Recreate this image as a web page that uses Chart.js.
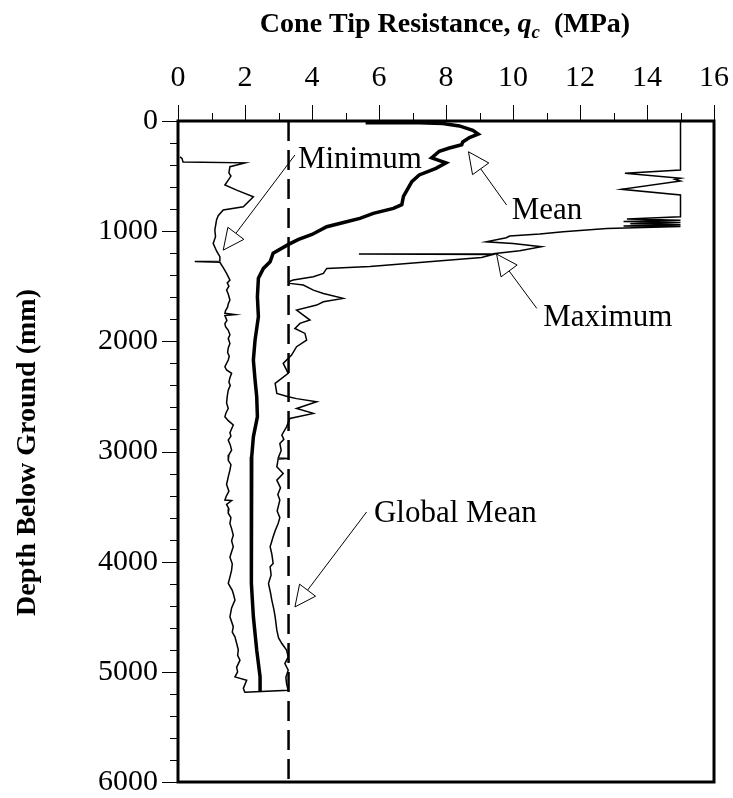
<!DOCTYPE html>
<html>
<head>
<meta charset="utf-8">
<title>Cone tip resistance profile</title>
<script src="https://cdn.jsdelivr.net/npm/chart.js@4.4.1/dist/chart.umd.min.js"></script>
<style>
  html, body { margin: 0; padding: 0; background: #fff; }
  canvas { display: block; }
</style>
</head>
<body>
<canvas id="cpt" width="733" height="798"></canvas>
<script>
// profiles as [qc (MPa), depth (mm)]
const minProfile = [
  [0.06, 325], [0.12, 340], [0.15, 372], [2.0, 380], [1.55, 415], [1.52, 470], [1.58, 500],
  [1.5, 536], [1.4, 581], [1.75, 627], [2.25, 687], [1.95, 778], [1.35, 808], [1.2, 860],
  [1.15, 899], [1.1, 990], [1.12, 1050], [1.05, 1111], [1.15, 1180], [1.25, 1232],
  [1.25, 1272], [0.5, 1276], [1.25, 1282], [1.35, 1330], [1.45, 1383], [1.55, 1444],
  [1.47, 1470], [1.52, 1500], [1.45, 1535], [1.5, 1570], [1.55, 1625], [1.5, 1660],
  [1.48, 1690], [1.42, 1720], [1.4, 1746], [1.7, 1758], [1.4, 1766], [1.46, 1810],
  [1.4, 1840], [1.42, 1868], [1.5, 1900], [1.55, 1940], [1.5, 1975], [1.55, 2019],
  [1.5, 2060], [1.48, 2100], [1.53, 2135], [1.5, 2170], [1.4, 2231], [1.45, 2260],
  [1.6, 2291], [1.55, 2330], [1.52, 2370], [1.56, 2400], [1.5, 2443], [1.47, 2500],
  [1.45, 2560], [1.5, 2610], [1.43, 2650], [1.4, 2685], [1.5, 2720], [1.65, 2760],
  [1.55, 2830], [1.58, 2860], [1.5, 2897], [1.56, 2940], [1.6, 2988], [1.52, 3030],
  [1.5, 3080], [1.58, 3120], [1.55, 3169], [1.5, 3230], [1.45, 3300], [1.52, 3360],
  [1.45, 3400], [1.4, 3441], [1.6, 3445], [1.45, 3480], [1.52, 3520], [1.5, 3560],
  [1.58, 3600], [1.55, 3653], [1.6, 3700], [1.65, 3760], [1.6, 3810], [1.65, 3865],
  [1.6, 3910], [1.55, 3960], [1.62, 4020], [1.6, 4077], [1.55, 4140], [1.5, 4198],
  [1.62, 4260], [1.66, 4300], [1.7, 4349], [1.6, 4420], [1.55, 4501], [1.65, 4590],
  [1.62, 4640], [1.7, 4682], [1.75, 4740], [1.8, 4800], [1.78, 4850], [1.85, 4894],
  [1.75, 4960], [1.78, 5000], [1.7, 5046], [2.05, 5076], [1.95, 5150], [2.0, 5190]
];

const meanProfile = [
  [5.6, 15], [7.2, 15], [7.9, 22], [8.4, 45], [8.8, 85], [8.96, 118], [8.7, 150],
  [8.5, 190], [8.47, 215], [8.1, 245], [7.8, 275], [7.57, 335], [8.0, 380], [7.7, 430],
  [7.2, 490], [6.98, 550], [6.87, 610], [6.73, 685], [6.68, 760], [6.43, 793], [5.83, 838],
  [5.43, 884], [5.03, 914], [4.44, 960], [4.0, 1030], [3.6, 1075], [3.3, 1120], [2.84, 1200],
  [2.75, 1278], [2.55, 1338], [2.4, 1428], [2.37, 1595], [2.4, 1777], [2.3, 1989],
  [2.25, 2170], [2.3, 2350], [2.35, 2504], [2.37, 2685], [2.25, 2867], [2.2, 3048],
  [2.2, 3260], [2.18, 3411], [2.18, 3900], [2.2, 4195], [2.25, 4500], [2.35, 4803],
  [2.45, 5046], [2.45, 5180]
];

const maxProfile = [
  [15, 0], [15, 445], [13.34, 475], [15, 520], [14.84, 530], [15, 545], [13.24, 620],
  [15, 672], [15, 869], [13.4, 890], [15, 900], [13.3, 912], [15, 922], [13.5, 932],
  [15, 942], [13.3, 952], [15, 958], [12.8, 975], [11.5, 1005], [10.8, 1026], [9.9, 1044],
  [9.8, 1060], [9.2, 1096], [10.0, 1111], [10.85, 1141], [10.2, 1178], [9.4, 1205],
  [5.4, 1208], [9.4, 1212], [9.06, 1238], [5.73, 1320], [4.44, 1338], [4.34, 1383],
  [4.04, 1414], [3.44, 1444], [3.3, 1460], [3.34, 1474], [3.74, 1489], [4.04, 1535],
  [4.34, 1565], [4.93, 1610], [4.34, 1641], [4.14, 1671], [3.54, 1716], [3.94, 1807],
  [3.64, 1837], [3.49, 1883], [3.79, 1928], [3.84, 1989], [3.54, 2049], [3.39, 2125],
  [3.14, 2200], [3.29, 2291], [2.9, 2382], [2.95, 2473], [3.29, 2503], [3.54, 2520],
  [4.14, 2548], [3.54, 2609], [4.04, 2654], [3.34, 2700], [3.24, 2776], [3.1, 2850],
  [3.16, 2890], [3.04, 2927], [3.08, 2990], [2.99, 3060], [3.3, 3064], [2.99, 3068],
  [2.95, 3139], [3.14, 3200], [2.95, 3260], [3.06, 3330], [2.98, 3390], [3.04, 3441],
  [2.96, 3540], [3.04, 3600], [2.99, 3653], [2.9, 3720], [2.84, 3774], [2.75, 3865],
  [2.8, 3930], [2.84, 4016], [2.75, 4047], [2.78, 4120], [2.7, 4198], [2.76, 4280],
  [2.8, 4349], [2.86, 4430], [2.9, 4501], [2.95, 4622], [3.0, 4690], [3.1, 4743],
  [3.24, 4803], [3.29, 4864], [3.19, 4925], [3.29, 4985], [3.22, 5050], [3.24, 5106],
  [3.29, 5167], [2.0, 5185]
];

const globalMean = 3.3;

const qcTicks = [0, 2, 4, 6, 8, 10, 12, 14, 16];
const depthTicks = [0, 1000, 2000, 3000, 4000, 5000, 6000];

// callouts: label position and arrow tail/tip, all in [qc, depth]
const callouts = [
  { text: 'Minimum', at: [3.58, 427], from: [3.49, 309], to: [1.35, 1172] },
  { text: 'Mean', at: [9.96, 890], from: [9.81, 763], to: [8.67, 279] },
  { text: 'Maximum', at: [10.9, 1859], from: [10.71, 1701], to: [9.51, 1208] },
  { text: 'Global Mean', at: [5.85, 3639], from: [5.63, 3549], to: [3.49, 4411] }
];

const toPoints = rows => rows.map(r => ({ x: r[0], y: r[1] }));

const serif = '"Liberation Serif", "Times New Roman", serif';

function drawArrow(ctx, x0, y0, x1, y1) {
  const a = Math.atan2(y1 - y0, x1 - x0);
  const len = 21, half = 10;
  const bx = x1 - len * Math.cos(a), by = y1 - len * Math.sin(a);
  ctx.beginPath();
  ctx.moveTo(x0, y0);
  ctx.lineTo(bx, by);
  ctx.stroke();
  ctx.beginPath();
  ctx.moveTo(x1, y1);
  ctx.lineTo(bx + half * Math.sin(a), by - half * Math.cos(a));
  ctx.lineTo(bx - half * Math.sin(a), by + half * Math.cos(a));
  ctx.closePath();
  ctx.fillStyle = '#fff';
  ctx.fill();
  ctx.stroke();
}

const frame = {
  id: 'frame',
  afterDatasetsDraw(chart) {
    const { ctx } = chart;
    const xs = chart.scales.x, ys = chart.scales.y;
    ctx.save();
    ctx.strokeStyle = '#000';
    ctx.lineWidth = 1;
    callouts.forEach(c => {
      drawArrow(ctx,
        xs.getPixelForValue(c.from[0]), ys.getPixelForValue(c.from[1]),
        xs.getPixelForValue(c.to[0]), ys.getPixelForValue(c.to[1]));
      ctx.fillStyle = '#000';
      ctx.font = '31px ' + serif;
      ctx.textAlign = 'left';
      ctx.textBaseline = 'alphabetic';
      ctx.fillText(c.text, xs.getPixelForValue(c.at[0]), ys.getPixelForValue(c.at[1]));
    });
    ctx.restore();
  },
  afterDraw(chart) {
    const { ctx, chartArea: area } = chart;
    const xs = chart.scales.x, ys = chart.scales.y;
    ctx.save();
    ctx.strokeStyle = '#000';

    // box
    ctx.lineWidth = 3;
    ctx.strokeRect(area.left, area.top, area.right - area.left, area.bottom - area.top);

    // tick marks, major labelled ones longer
    ctx.lineWidth = 1;
    ctx.beginPath();
    for (let v = 0; v <= 16; v++) {
      const px = Math.round(xs.getPixelForValue(v)) + 0.5;
      const len = v % 2 === 0 ? 16 : 8;
      ctx.moveTo(px, area.top);
      ctx.lineTo(px, area.top - len);
    }
    for (let d = 0; d <= 6000; d += 200) {
      const py = Math.round(ys.getPixelForValue(d)) + 0.5;
      const len = d % 1000 === 0 ? 16 : 8;
      ctx.moveTo(area.left, py);
      ctx.lineTo(area.left - len, py);
    }
    ctx.stroke();

    // top title with bold italic q and subscript c
    ctx.fillStyle = '#000';
    ctx.textBaseline = 'alphabetic';
    ctx.textAlign = 'left';
    const bold = 'bold 28px ' + serif;
    const boldIt = 'italic bold 28px ' + serif;
    const sub = 'italic bold 19px ' + serif;
    const parts = [
      { t: 'Cone Tip Resistance, ', f: bold, dy: 0 },
      { t: 'q', f: boldIt, dy: 0 },
      { t: 'c', f: sub, dy: 6 },
      { t: '  (MPa)', f: bold, dy: 0 }
    ];
    let total = 0;
    parts.forEach(p => { ctx.font = p.f; p.w = ctx.measureText(p.t).width; total += p.w; });
    let x = 445 - total / 2;
    parts.forEach(p => { ctx.font = p.f; ctx.fillText(p.t, x, 32 + p.dy); x += p.w; });

    // side title
    ctx.translate(28, (area.top + area.bottom) / 2 + 1);
    ctx.rotate(-Math.PI / 2);
    ctx.font = bold;
    ctx.textAlign = 'center';
    ctx.textBaseline = 'middle';
    ctx.fillText('Depth Below Ground (mm)', 0, 0);
    ctx.restore();
  }
};

const line = (data, width, extra) => Object.assign({
  data: toPoints(data),
  showLine: true,
  borderColor: '#000',
  backgroundColor: '#000',
  borderWidth: width,
  pointRadius: 0,
  tension: 0
}, extra || {});

new Chart(document.getElementById('cpt'), {
  type: 'scatter',
  data: {
    datasets: [
      line([[globalMean, 0], [globalMean, 6000]], 2.5, { borderDash: [20, 9] }),
      line(minProfile, 1.5),
      line(maxProfile, 1.5),
      line(meanProfile, 3.5)
    ]
  },
  options: {
    responsive: false,
    animation: false,
    devicePixelRatio: 1,
    layout: { padding: { left: 0, top: 0, right: 19, bottom: 16 } },
    plugins: {
      legend: { display: false },
      tooltip: { enabled: false }
    },
    scales: {
      x: {
        type: 'linear',
        position: 'top',
        min: 0,
        max: 16,
        afterBuildTicks: s => { s.ticks = qcTicks.map(v => ({ value: v })); },
        afterFit: s => { s.height = 121; },
        // tick marks are drawn by the frame plugin; tickLength only spaces the labels
        grid: { display: false, drawTicks: true, tickLength: 25 },
        border: { display: false },
        ticks: {
          color: '#000',
          padding: 0,
          maxRotation: 0,
          callback: v => String(v),
          font: { family: serif, size: 30 }
        }
      },
      y: {
        type: 'linear',
        position: 'left',
        reverse: true,
        min: 0,
        max: 6000,
        afterBuildTicks: s => { s.ticks = depthTicks.map(v => ({ value: v })); },
        afterFit: s => { s.width = 178; },
        grid: { display: false, drawTicks: true, tickLength: 20 },
        border: { display: false },
        ticks: {
          color: '#000',
          padding: 0,
          callback: v => String(v),
          font: { family: serif, size: 30, lineHeight: 1 }
        }
      }
    }
  },
  plugins: [frame]
});
</script>
</body>
</html>
